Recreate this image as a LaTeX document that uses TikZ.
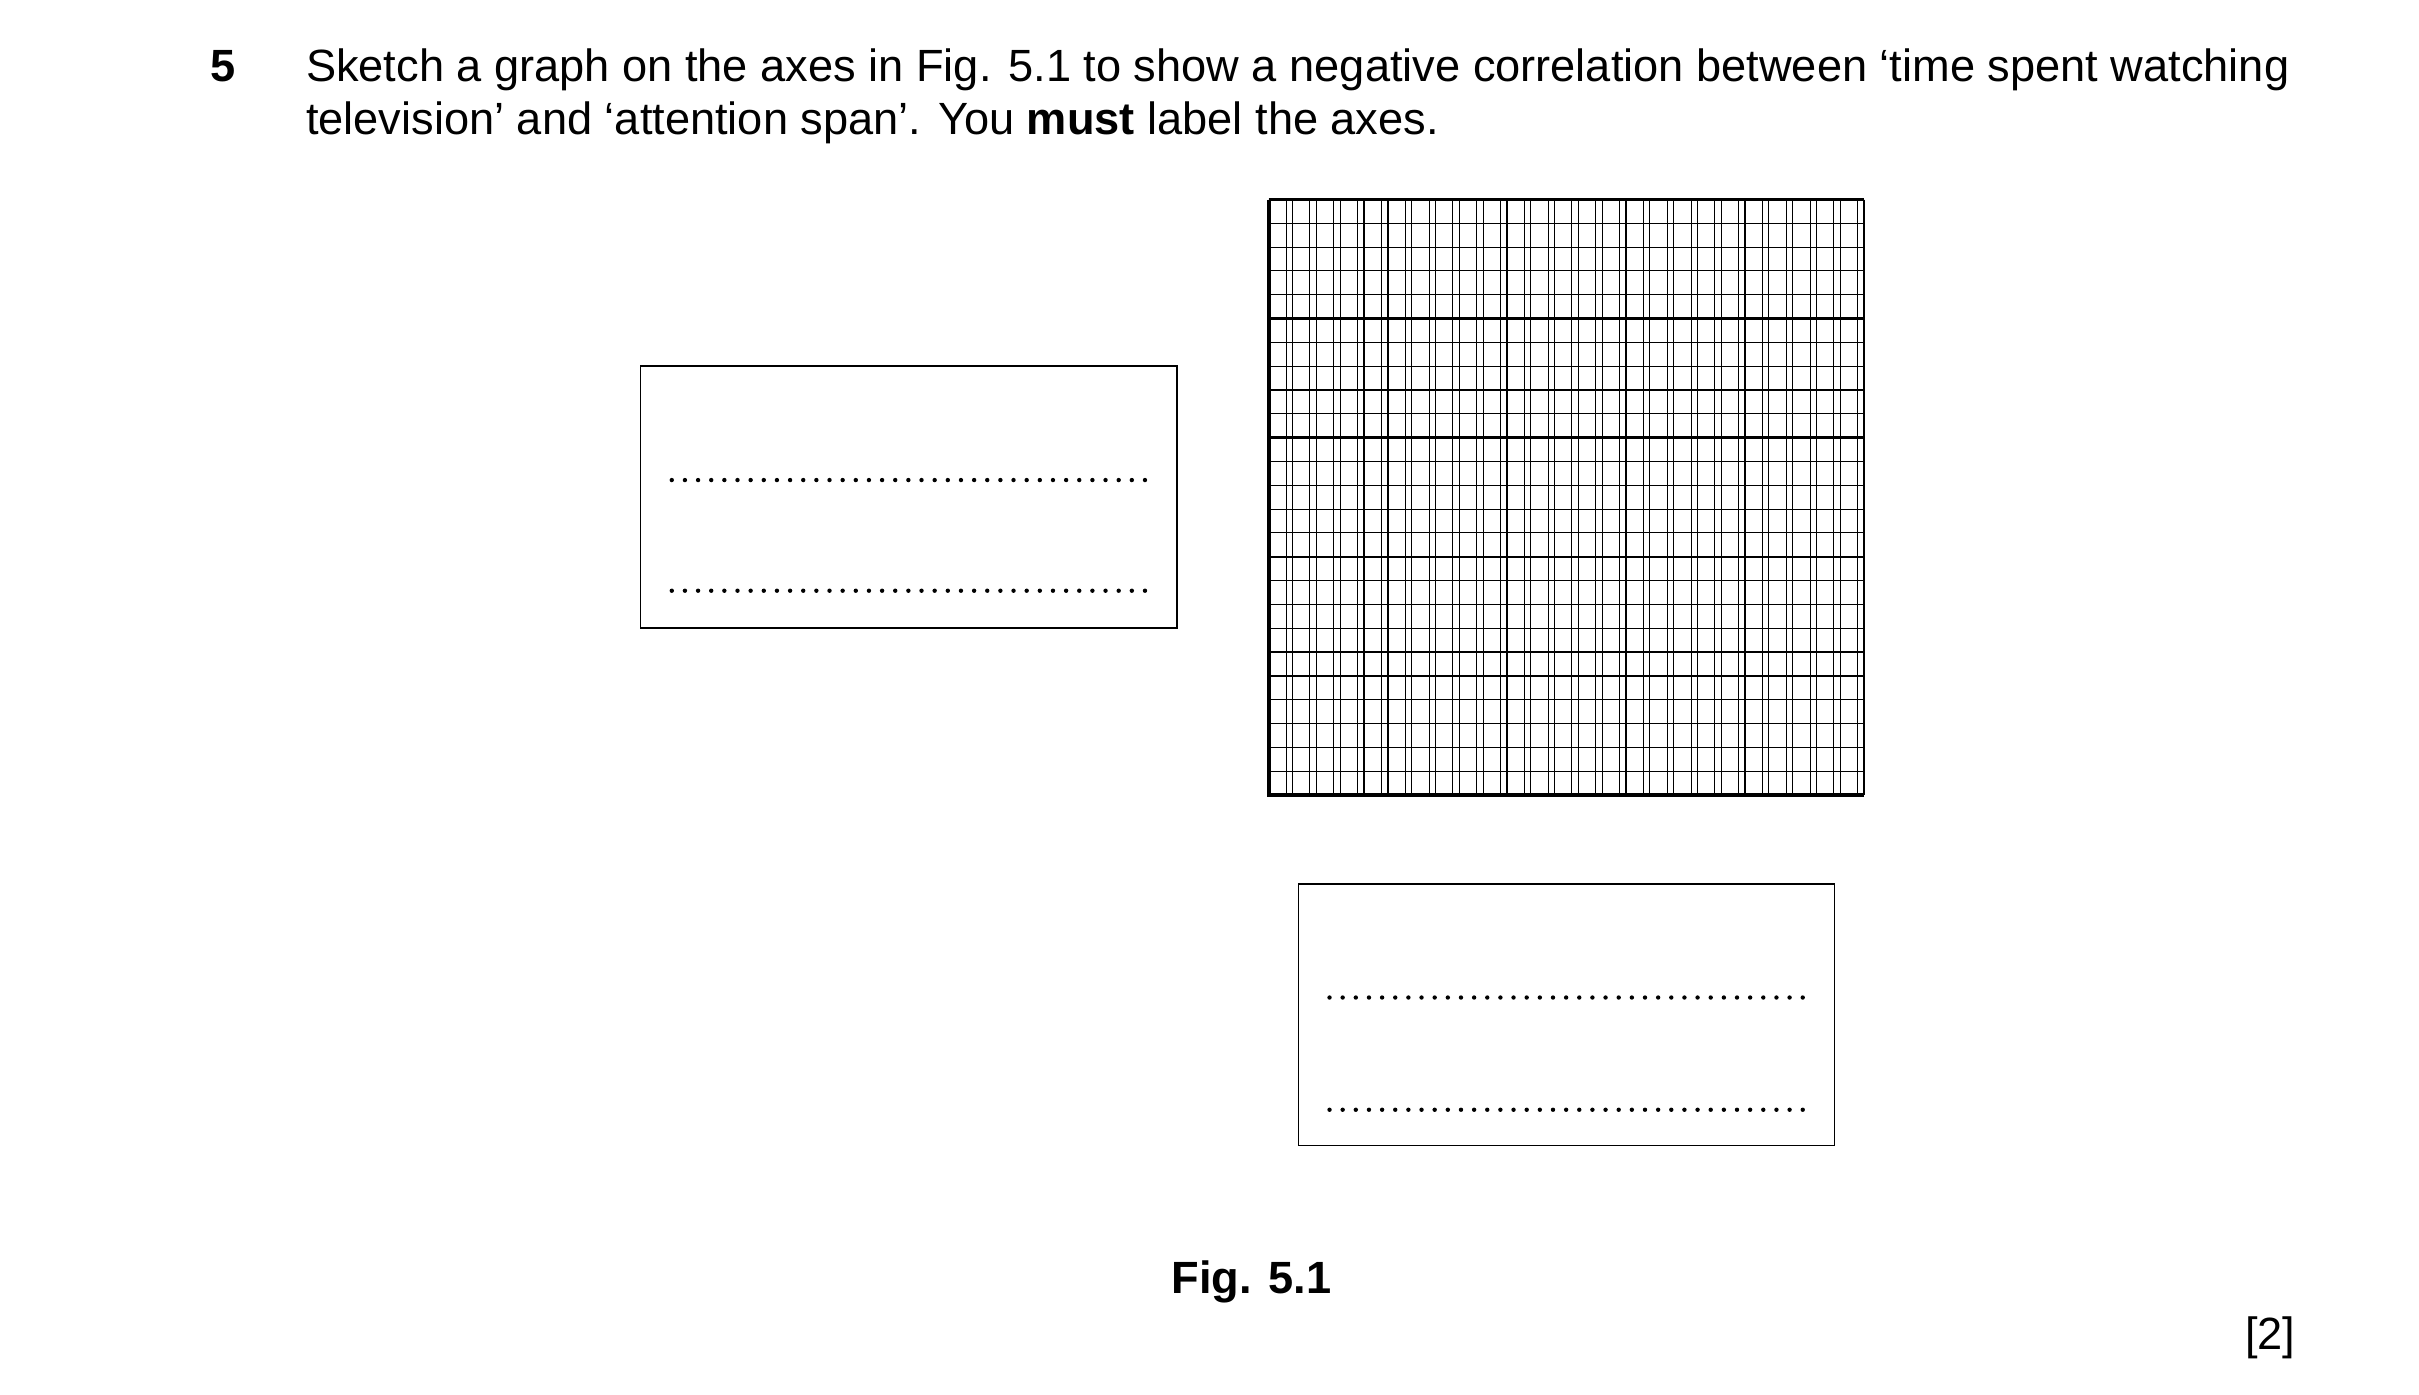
\documentclass[tikz,border=0pt]{standalone}
\usepackage{fontspec}
\setmainfont{Liberation Sans}
\begin{document}
\begin{tikzpicture}[x=0.02cm,y=-0.02cm,
  txt/.style={anchor=base west,inner sep=0,font=\fontsize{16.5}{20}\selectfont},
  box/.style={draw,line width=0.6pt},
  dots/.style={line width=1.6pt,line cap=round,dash pattern=on 0pt off 4.8pt}]
\useasboundingbox (0,0) rectangle (1552,895);
\node[txt,font=\fontsize{16.5}{20}\selectfont\bfseries] (num) at (135,52) {5};
\node[txt] (l1) at (196,52) {Sketch a graph on the axes in Fig. 5.1 to show a negative correlation between ‘time spent watching};
\node[txt] (l2) at (196,86) {television’ and ‘attention span’. You \textbf{must} label the axes.};
% grid
\draw[line width=0.3pt] (814,128) grid[step=15.28] (1196,510);
\foreach \i in {0,...,25}{
  \draw[line width=0.4pt] ({814+15.28*\i},128) -- ({814+15.28*\i},510);
  \draw[line width=0.4pt] (814,{128+15.28*\i}) -- (1196,{128+15.28*\i});}
\foreach \i in {1,...,5}{
  \draw[line width=0.9pt] ({814+76.4*\i},128) -- ({814+76.4*\i},510);
  \draw[line width=0.9pt] (814,{128+76.4*(\i-1)}) -- (1196,{128+76.4*(\i-1)});}
\draw[line width=1.6pt] (814,128) -- (814,510) -- (1196,510);
% boxes
\node[box,minimum width=6.88cm,minimum height=3.36cm,inner sep=0] (b1) at (583,319) {};
\node[box,minimum width=6.88cm,minimum height=3.36cm,inner sep=0] (b2) at (1005,651) {};
\draw[dots] (431,308) -- (740,308);
\draw[dots] (431,379) -- (740,379);
\draw[dots] (853,640) -- (1162,640);
\draw[dots] (853,712) -- (1162,712);
\node[inner sep=0,anchor=base,font=\fontsize{16.5}{20}\selectfont\bfseries] (fig) at (803,830) {Fig. 5.1};
\node[inner sep=0,anchor=base east,font=\fontsize{16.5}{20}\selectfont] (mk) at (1473,866) {[2]};
\end{tikzpicture}
\end{document}
